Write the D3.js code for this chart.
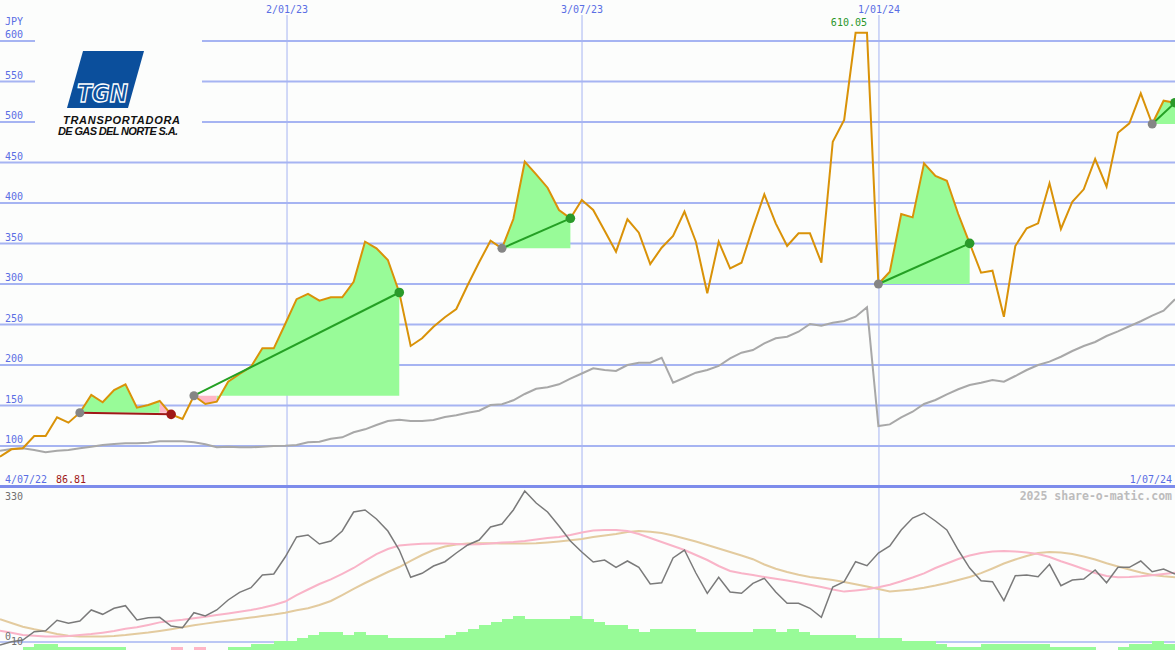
<!DOCTYPE html>
<html><head><meta charset="utf-8">
<script src="https://cdn.jsdelivr.net/npm/d3@7"></script>
<style>body{margin:0;background:#fcfdfc}svg{display:block}</style>
</head><body><svg id="c" width="1175" height="650"></svg>
<script>
// ---- data ----
const startLabel = "4/07/22";
const endLabel = "1/07/24";
const currency = "JPY";
const firstPrice = "86.81";
const peakLabel = "610.05";
const priceTicks = [100,150,200,250,300,350,400,450,500,550,600];
const dateTicks = [{label:"2/01/23", week:25.16},{label:"3/07/23", week:51.02},{label:"1/01/24", week:77.05}];
const price = [86.81,95.9,97.2,112.3,112.3,135.4,128.8,141.1,163,154,169.1,176.2,147.3,150.6,155.6,139.1,133.3,162.1,151.9,154.7,
179.4,188.9,197.9,220.6,220.6,250.6,281.3,287.7,279.4,283.6,283.6,302.8,352.2,344,329.6,289.5,223.5,233,247.3,258.9,
269.1,298.8,326.8,353.5,344,380.2,451,435.4,418.9,391.4,381.1,403.7,391.4,365.8,339.9,379.9,363.3,324.7,344.8,359.3,
389.3,352.2,288.5,352.2,319.4,326.3,369.9,410.7,374.9,346.9,362.6,362.6,326.3,475.7,502.5,610.05,610.05,300,315.2,386.4,
382.3,449,433.3,427.5,386.4,350.2,313.9,316.4,259.6,346.9,368.8,374.9,424.3,367.9,401.6,416.9,454.3,420.1,486.8,498.4,
535.4,497.5,526.3,523.8];
const average = [94.2,96.3,97.1,95.1,92.2,94.2,95.1,97.1,99.2,101.2,102.5,103.3,103.3,104.1,105.8,105.8,105.8,104.5,102.1,98.4,
99.2,98.4,98.4,99.2,100,100.4,101.2,104.5,105.3,109,110.7,116.9,120.6,125.9,130.9,132.5,130.9,130.9,132.1,135.8,
137.9,141.1,143.6,150.6,151.5,156.4,164.2,170.7,172.5,176.2,183.1,189.5,195.9,193.8,192.6,200,202.9,202.9,209,178.1,
184.3,190.5,193.8,198.8,208.2,215.2,218.5,226.8,233,234.9,241.1,250.6,248.5,252.2,254.3,259.6,271.2,124.7,126.7,135.4,
142.3,151.9,156.8,163.8,170,175.3,178.1,181.5,179.4,186.4,193.8,200,204.1,210.2,217.3,223.5,228.4,235.8,241.6,247.8,
254,260.9,267.1,281.1];
const trades = [{entry:7, exit:15},{entry:17, exit:35},{entry:44, exit:50},{entry:77, exit:85},{entry:101, exit:103}];
const oscTop = 330;
const oscillator = [-6.5,0.7,4.3,22.4,24.5,47.1,40.6,45.6,69.5,60.1,73.2,78.8,47.8,52.8,53.6,34.7,31,63.6,56.4,69.5,
91.2,107.9,117.9,145.5,147.6,184.5,228,232.3,212.8,219.3,241,282.2,286.6,267,241,199.7,140.5,149.1,165,174.3,
193.2,210.6,221.4,249.7,256.2,286.6,327.8,301.8,282.2,251.8,219.3,195.4,173.7,178,162.2,175.9,162.2,125.9,128.7,182.4,
199.7,149.8,105.7,140.5,108.6,105.7,127.4,138.3,108.6,84,84,73.2,53.6,119.4,130.9,174.3,165.6,193.2,208.4,243.2,
269.2,280.1,262.7,243.2,199.7,160.6,133.1,130.9,89.7,143.9,145.5,141.8,168.7,122.2,134.6,136.8,156.3,128.7,162.2,162.2,
175.9,152.6,158.5,147.6];
const fastAvg = [24.5,20,15.2,13.5,11.7,12.2,13,15,17.2,20.2,23.7,28.9,32.1,37.1,42.6,45.8,48.2,51.5,54.9,58.6,
62.1,65.6,69.3,74.2,80.3,87.9,101.6,114,125.9,136.1,148.1,160.7,176.3,191,201.9,209.5,211.7,213.2,213.8,213.8,
212.8,211.7,212.3,213.8,216,217.1,219.3,222.5,225.8,228,232.3,237.7,242.1,243.2,243.2,241,234.5,225.8,217.1,208.4,
199.7,188.9,178,165,154.1,149.4,145.5,141.1,137.2,133.5,129.2,124.4,119.4,114.2,109.4,111.8,114.4,118.8,124.4,131.8,
140,149.1,160.7,170.4,180.2,187.8,193.2,196.5,197.6,196.5,194.3,191,184.5,175.2,167.2,158.5,149.8,143.3,140.5,141.1,
142.6,145,147.6,150.4];
const slowAvg = [49.3,41.2,33.2,27.6,22.6,17.4,13.5,12.2,11.7,12.2,13,15,17.8,20.4,23.9,27.8,31.9,36.3,39.9,43.4,
46.7,49.7,53,56.2,59.5,63.6,69,73.2,80.3,89,102,115.1,128.1,140,152,162.8,175.9,188.9,199.7,207.3,
211.7,213.8,214.5,214.5,213.8,213.6,213.6,214.3,216,218.2,220.8,223.6,228,231.2,234.5,238.8,241,239.2,236.6,231.2,
224.7,218.2,210.6,203,195.4,187.8,179.8,168.3,159.1,152,145.9,141.3,137.9,134.4,130.3,125.5,120.5,115.1,109.6,111.8,
114,117.9,122.7,128.1,134.6,141.1,149.4,159.6,170.4,179.1,186.7,193.2,195.4,194.3,191,185.6,179.1,170.9,163.9,157.4,
150.9,145.5,142.6,140.5];
const bars = [0,0,1,2,2,1,1,1,1,1,1,0,0,0,0,-1,0,-1,0,0,
1,1,2,2,3,3,4,5,6,6,5,6,5,5,4,4,4,4,4,5,
6,7,8,9,10,11,10,10,10,10,11,10,9,8,8,7,6,7,7,7,
7,6,6,6,6,6,7,7,6,7,6,5,5,5,5,4,4,4,4,3,
3,3,2,1,1,1,2,2,2,2,2,2,1,1,1,1,0,0,1,2,
2,3,2,2];

// ---- chart ----
const W = 1175, H = 650;
const svg = d3.select("#c");
const mono = "'DejaVu Sans Mono', monospace";
const BLUE_TXT = "#5a6ee4", GRID = "#a6b4f2", SEP = "#7d8ceb";
const GREEN_F = "#98fb98", PINK_F = "#ffb6c6";
const x = d3.scaleLinear().domain([0, price.length - 1]).range([0, W]);
const y = d3.scaleLinear().domain([50, 600]).range([486.5, 41]);
const yo = d3.scaleLinear().domain([0, oscTop]).range([642, 490]);
const yb = d3.scaleLinear().domain([0, 11]).range([650.5, 616]);

svg.append("rect").attr("width", W).attr("height", H).attr("fill", "#fcfdfc");

// horizontal grid
const gridG = svg.append("g");
priceTicks.forEach(v => {
  gridG.append("line").attr("x1", 0).attr("x2", W).attr("y1", y(v)).attr("y2", y(v))
    .attr("stroke", GRID).attr("stroke-width", 2);
});
// vertical date lines
dateTicks.forEach(d => {
  gridG.append("line").attr("x1", x(d.week)).attr("x2", x(d.week)).attr("y1", 15).attr("y2", H)
    .attr("stroke", GRID).attr("stroke-width", 1);
  svg.append("text").attr("x", x(d.week)).attr("y", 13).attr("text-anchor", "middle")
    .attr("font-family", mono).attr("font-size", 10).attr("fill", BLUE_TXT).text(d.label);
});

// trade fills (runs of same colour merged into one area)
const fillG = svg.append("g");
trades.forEach(t => {
  const base = price[t.entry];
  const colOf = i => price[i + 1] >= base ? GREEN_F : PINK_F;
  let runStart = t.entry;
  for (let i = t.entry; i < t.exit; i++) {
    const last = (i === t.exit - 1) || colOf(i + 1) !== colOf(i);
    if (last) {
      const idx = d3.range(runStart, i + 2);
      const area = d3.area().x(k => x(k)).y0(y(base)).y1(k => y(price[k]));
      fillG.append("path").attr("d", area(idx)).attr("fill", colOf(i));
      runStart = i + 1;
    }
  }
});

// logo
svg.append("rect").attr("x", 35).attr("y", 30).attr("width", 167).attr("height", 110).attr("fill", "#fcfdfc");
svg.append("polygon").attr("points", "83,51 144,51 128,108 67,108").attr("fill", "#0b4f9c");
svg.append("text").attr("x", 77).attr("y", 102).attr("font-family", "'DejaVu Sans', sans-serif")
  .attr("font-style", "italic").attr("font-weight", "bold").attr("font-size", 25)
  .attr("textLength", 51).attr("lengthAdjust", "spacingAndGlyphs")
  .attr("fill", "#0b4f9c").attr("stroke", "#ffffff").attr("stroke-width", 1.4).text("TGN");
svg.append("text").attr("x", 63).attr("y", 124).attr("font-family", "'Liberation Sans', Arial, sans-serif")
  .attr("font-style", "italic").attr("font-weight", "bold").attr("font-size", 11)
  .attr("textLength", 117).attr("lengthAdjust", "spacing").attr("fill", "#111").text("TRANSPORTADORA");
svg.append("text").attr("x", 58).attr("y", 135).attr("font-family", "'Liberation Sans', Arial, sans-serif")
  .attr("font-style", "italic").attr("font-weight", "bold").attr("font-size", 11)
  .attr("textLength", 120).attr("lengthAdjust", "spacing").attr("fill", "#111").text("DE GAS DEL NORTE S.A.");

// price axis labels
svg.append("text").attr("x", 5).attr("y", 25).attr("font-family", mono).attr("font-size", 10)
  .attr("fill", BLUE_TXT).text(currency);
priceTicks.forEach(v => {
  svg.append("text").attr("x", 5).attr("y", y(v) - 3).attr("font-family", mono).attr("font-size", 10)
    .attr("fill", BLUE_TXT).text(v);
});

// average line
svg.append("path").attr("d", d3.line().x((d, i) => x(i)).y(d => y(d))(average)).attr("fill", "none")
  .attr("stroke", "#a8a8a8").attr("stroke-width", 2);
// price line
svg.append("path").attr("d", d3.line().x((d, i) => x(i)).y(d => y(d))(price)).attr("fill", "none")
  .attr("stroke", "#d99208").attr("stroke-width", 2);

// trade lines & markers
trades.forEach(t => {
  const win = price[t.exit] >= price[t.entry];
  const col = win ? "#24a024" : "#a01818";
  svg.append("line").attr("x1", x(t.entry)).attr("y1", y(price[t.entry]))
    .attr("x2", x(t.exit)).attr("y2", y(price[t.exit])).attr("stroke", col).attr("stroke-width", 2);
  svg.append("circle").attr("cx", x(t.entry)).attr("cy", y(price[t.entry])).attr("r", 4.5).attr("fill", "#858585");
  svg.append("circle").attr("cx", x(t.exit)).attr("cy", y(price[t.exit])).attr("r", 4.8).attr("fill", win ? "#2a9a2a" : "#a01818");
});

// peak label
const peakIdx = price.lastIndexOf(d3.max(price));
svg.append("text").attr("x", x(peakIdx)).attr("y", 26).attr("text-anchor", "end")
  .attr("font-family", mono).attr("font-size", 10).attr("fill", "#2a962a").text(peakLabel);

// separator (price 50)
svg.append("line").attr("x1", 0).attr("x2", W).attr("y1", y(50)).attr("y2", y(50))
  .attr("stroke", SEP).attr("stroke-width", 3);
svg.append("text").attr("x", 5).attr("y", 483).attr("font-family", mono).attr("font-size", 10)
  .attr("fill", BLUE_TXT).text(startLabel);
svg.append("text").attr("x", 56).attr("y", 483).attr("font-family", mono).attr("font-size", 10)
  .attr("fill", "#a01818").text(firstPrice);
svg.append("text").attr("x", 1172).attr("y", 483).attr("text-anchor", "end").attr("font-family", mono)
  .attr("font-size", 10).attr("fill", BLUE_TXT).text(endLabel);
svg.append("text").attr("x", 5).attr("y", 500).attr("font-family", mono).attr("font-size", 10)
  .attr("fill", "#707070").text(oscTop);
svg.append("text").attr("x", 1172).attr("y", 500).attr("text-anchor", "end").attr("font-family", mono)
  .attr("font-size", 11.5).attr("font-weight", "bold").attr("fill", "#bcbcbc").text("2025 share-o-matic.com");

// lower panel
svg.append("line").attr("x1", 0).attr("x2", W).attr("y1", yo(0)).attr("y2", yo(0))
  .attr("stroke", GRID).attr("stroke-width", 1.5);
svg.append("path").attr("d", d3.line().x((d, i) => x(i)).y(d => yo(d))(slowAvg)).attr("fill", "none")
  .attr("stroke", "#e3cb9f").attr("stroke-width", 2);
svg.append("path").attr("d", d3.line().x((d, i) => x(i)).y(d => yo(d))(fastAvg)).attr("fill", "none")
  .attr("stroke", "#f9b4c8").attr("stroke-width", 2);
svg.append("path").attr("d", d3.line().x((d, i) => x(i)).y(d => yo(d))(oscillator)).attr("fill", "none")
  .attr("stroke", "#7a7a7a").attr("stroke-width", 1.5);
svg.append("text").attr("x", 5).attr("y", 640).attr("font-family", mono).attr("font-size", 10)
  .attr("fill", "#707070").text("0");
svg.append("text").attr("x", 11).attr("y", 645).attr("font-family", mono).attr("font-size", 10)
  .attr("fill", "#707070").text("10");
// bars
svg.append("g").attr("shape-rendering", "crispEdges").selectAll("rect").data(bars).join("rect")
  .attr("x", (d, i) => x(i)).attr("width", x(1) - x(0) + 0.5)
  .attr("y", d => yb(Math.abs(d))).attr("height", d => yb(0) - yb(Math.abs(d)))
  .attr("fill", d => d < 0 ? PINK_F : GREEN_F);
</script></body></html>
